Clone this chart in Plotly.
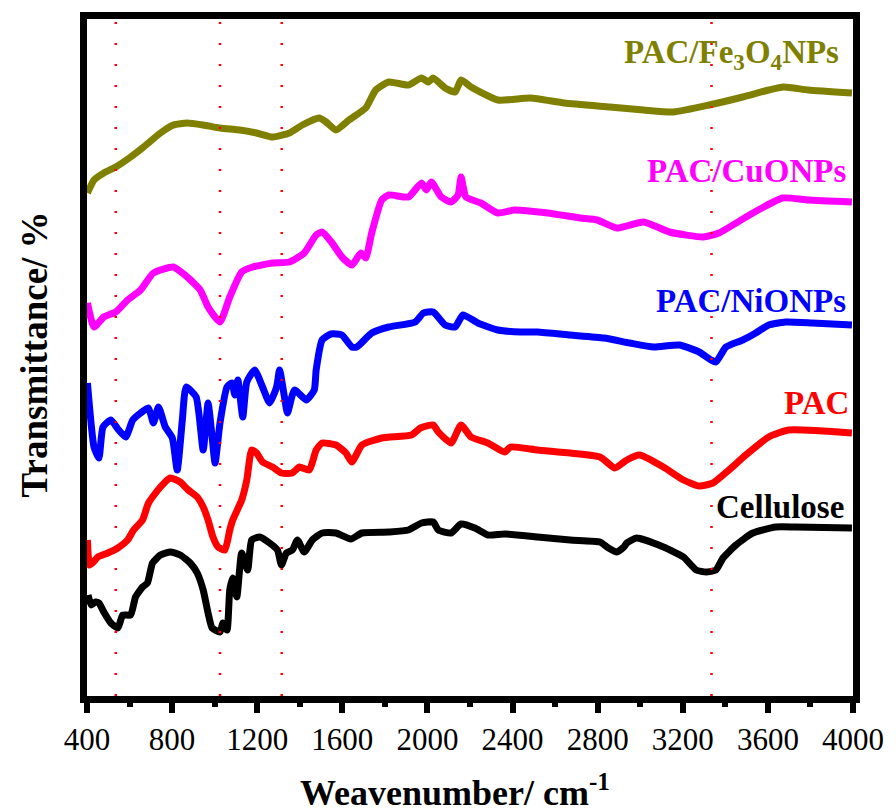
import plotly.graph_objects as go

# FTIR spectra (wavenumber in cm-1, offset transmittance in arbitrary units)
cell_wn = [405, 420, 440, 456, 479, 512, 545, 568, 605, 628, 661, 684, 708, 745, 792, 838, 885, 918,
           946, 969, 988, 1025, 1039, 1058, 1071, 1085, 1104, 1127, 1155, 1174, 1211, 1258, 1295,
           1314, 1337, 1365, 1389, 1421, 1459, 1505, 1570, 1640, 1692, 1818, 1911, 1972, 2027, 2051,
           2111, 2158, 2223, 2284, 2363, 2517, 2671, 2811, 2844, 2890, 2923, 2937, 2983, 3109, 3203,
           3263, 3310, 3356, 3389, 3450, 3529, 3636, 3730, 3995]
cell_t = [105, 95, 98, 97, 88, 77, 72, 85, 85, 103, 113, 117, 137, 145, 148, 145, 137, 127,
          110, 87, 72, 68, 77, 70, 110, 122, 103, 147, 130, 160, 163, 157, 150,
          135, 147, 150, 160, 148, 160, 167, 167, 161, 167, 168, 170, 177, 178, 170,
          167, 176, 172, 165, 166, 163, 160, 158, 153, 148, 153, 157, 162, 153, 143,
          130, 128, 130, 142, 155, 167, 173, 173, 172]

pac_wn = [402, 412, 430, 451, 498, 545, 591, 619, 661, 689, 745, 792, 838, 876, 918, 946, 969, 992,
          1016, 1048, 1071, 1085, 1127, 1151, 1174, 1197, 1225, 1272, 1314, 1365, 1398, 1445, 1477,
          1505, 1570, 1617, 1645, 1692, 1785, 1925, 1967, 2027, 2051, 2111, 2158, 2205, 2284, 2363,
          2391, 2517, 2671, 2811, 2881, 2937, 2997, 3109, 3203, 3277, 3342, 3417, 3496, 3604, 3697,
          3995]
pac_t = [160, 135, 138, 143, 147, 152, 160, 170, 180, 197, 213, 222, 218, 210, 203, 193, 180, 163,
         153, 150, 170, 180, 200, 220, 250, 247, 238, 233, 227, 227, 233, 230, 250,
         257, 255, 247, 238, 255, 262, 265, 272, 275, 268, 257, 275, 263, 257, 248,
         253, 250, 247, 243, 232, 240, 245, 233, 220, 214, 217, 230, 245, 263, 270,
         267]

ni_wn = [402, 433, 456, 475, 512, 549, 582, 615, 652, 689, 712, 736, 768, 801, 824, 848, 866, 913,
         946, 969, 988, 1002, 1025, 1058, 1081, 1095, 1109, 1132, 1151, 1188, 1225, 1258, 1291, 1305,
         1328, 1342, 1375, 1431, 1468, 1477, 1505, 1547, 1598, 1645, 1668, 1738, 1818, 1943, 1981,
         2027, 2083, 2130, 2167, 2237, 2331, 2438, 2517, 2671, 2830, 2951, 3063, 3184, 3277, 3333,
         3356, 3403, 3482, 3543, 3604, 3683, 3809, 3995]
ni_t = [317, 253, 242, 273, 280, 270, 263, 280, 287, 292, 277, 293, 273, 262, 230, 280, 313, 303,
        250, 297, 263, 237, 277, 313, 317, 305, 320, 283, 318, 330, 313, 297, 313, 330,
        303, 287, 310, 300, 310, 330, 360, 366, 365, 353, 353, 367, 373, 378, 387,
        388, 375, 373, 385, 377, 370, 368, 368, 365, 362, 357, 353, 355, 348, 340,
        338, 353, 360, 367, 375, 378, 377, 375]

cu_wn = [402, 433, 479, 535, 591, 652, 712, 806, 871, 932, 969, 1025, 1071, 1127, 1179, 1272, 1351,
         1421, 1477, 1505, 1552, 1598, 1645, 1687, 1710, 1738, 1785, 1818, 1911, 1972, 1995, 2018,
         2065, 2111, 2144, 2158, 2181, 2251, 2331, 2410, 2564, 2718, 2797, 2890, 3016, 3137, 3296,
         3370, 3529, 3669, 3790, 3995]
cu_t = [397, 373, 383, 388, 400, 410, 427, 433, 423, 410, 393, 378, 403, 428, 433, 437, 438,
        447, 465, 468, 457, 443, 435, 447, 442, 467, 500, 505, 503, 517, 510, 518,
        503, 498, 505, 523, 503, 497, 487, 490, 487, 482, 480, 472, 478, 468, 463,
        467, 487, 502, 500, 498]

fe_wn = [402, 433, 479, 535, 605, 666, 745, 806, 871, 946, 1025, 1118, 1197, 1272, 1351, 1412, 1491,
         1524, 1570, 1631, 1710, 1757, 1818, 1911, 1972, 2004, 2027, 2083, 2130, 2158, 2205, 2331,
         2484, 2643, 2857, 3016, 3156, 3324, 3482, 3604, 3674, 3790, 3995]
fe_t = [507, 520, 527, 533, 543, 553, 567, 575, 577, 575, 572, 570, 567, 563, 567, 575, 582,
        578, 570, 580, 592, 610, 618, 615, 622, 618, 622, 612, 608, 620, 613, 600,
        602, 597, 593, 590, 588, 595, 603, 610, 613, 610, 607]

series = [
    ("Cellulose", cell_wn, cell_t, "#000000"),
    ("PAC", pac_wn, pac_t, "#FF0000"),
    ("PAC/NiONPs", ni_wn, ni_t, "#0000FF"),
    ("PAC/CuONPs", cu_wn, cu_t, "#FF00FF"),
    ("PAC/Fe<sub>3</sub>O<sub>4</sub>NPs", fe_wn, fe_t, "#808000"),
]

# label anchor points (right edge wavenumber, vertical centre)
label_x = [3967, 3990, 3976, 3976, 3944]
label_y = [193, 297, 399, 529, 646]

# characteristic band positions marked with dotted guides
band_wn = [535, 1025, 1315, 3335]

x_ticks = list(range(400, 4001, 400))
x_range = [400, 4000]
y_range = [4, 681]

SERIF = "Liberation Serif, Times New Roman, serif"

fig = go.Figure()
for name, wn, t, color in series:
    fig.add_trace(go.Scatter(x=wn, y=t, mode="lines", name=name,
                             line=dict(color=color, width=7, shape="spline", smoothing=0.5),
                             showlegend=False))

for (name, _, _, color), lx, ly in zip(series, label_x, label_y):
    fig.add_annotation(x=lx, y=ly, xref="x", yref="y", text=f"<b>{name}</b>",
                       showarrow=False, xanchor="right", yanchor="middle",
                       font=dict(family=SERIF, size=33, color=color))

for b in band_wn:
    fig.add_shape(type="line", x0=b, x1=b, y0=y_range[0], y1=y_range[1], xref="x", yref="y",
                  line=dict(color="#FF0000", width=2.5, dash="2px,19px"), layer="above")

# axis titles
fig.add_annotation(x=0.4805, y=-0.139, xref="paper", yref="paper", xanchor="center", yanchor="middle",
                   text="<b>Weavenumber/ cm<sup>-1</sup></b>", showarrow=False,
                   font=dict(family=SERIF, size=36, color="black"))
fig.add_annotation(x=-0.0688, y=0.505, xref="paper", yref="paper", xanchor="center", yanchor="middle",
                   text="<b>Transmittance/ %</b>", showarrow=False, textangle=-90,
                   font=dict(family=SERIF, size=37, color="black"))

fig.update_layout(
    width=896, height=812,
    margin=dict(l=87, r=39, t=19, b=116),
    plot_bgcolor="white", paper_bgcolor="white",
    font=dict(family=SERIF, color="black"),
)
fig.update_xaxes(
    range=x_range, tickvals=x_ticks, ticktext=[str(v) for v in x_ticks],
    showgrid=False, zeroline=False,
    showline=True, linecolor="black", linewidth=7, mirror=True,
    ticks="outside", ticklen=10, tickwidth=6, tickcolor="black",
    minor=dict(dtick=200, tick0=400, ticks="outside", ticklen=4, tickwidth=6, tickcolor="black", showgrid=False),
    tickfont=dict(family=SERIF, size=31, color="black"),
)
fig.update_yaxes(
    range=y_range, showticklabels=False, ticks="",
    showgrid=False, zeroline=False,
    showline=True, linecolor="black", linewidth=7, mirror=True,
)

fig.write_html("out.html")
